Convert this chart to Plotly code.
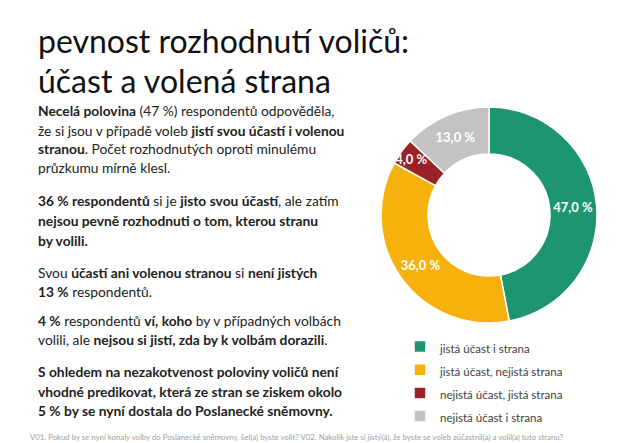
import plotly.graph_objects as go

# ---- data ----
categories = ["jistá účast i strana", "jistá účast, nejistá strana",
              "nejistá účast, jistá strana", "nejistá účast i strana"]
values = [47.0, 36.0, 4.0, 13.0]
colors = ["#1d9570", "#f6b10c", "#982226", "#c3c3c3"]

title_lines = ["pevnost rozhodnutí voličů:", "účast a volená strana"]

body_lines = [
    ("<b>Necelá polovina</b> (47 %) respondentů odpověděla,", 103),
    ("že si jsou v případě voleb <b>jistí svou účastí i volenou</b>", 122),
    ("<b>stranou</b>. Počet rozhodnutých oproti minulému", 141),
    ("průzkumu mírně klesl.", 160),
    ("<b>36 % respondentů</b> si je <b>jisto svou účastí</b>, ale zatím", 193),
    ("<b>nejsou pevně rozhodnuti o tom, kterou stranu</b>", 213),
    ("<b>by volili.</b>", 232),
    ("Svou <b>účastí ani volenou stranou</b> si <b>není jistých</b>", 264),
    ("<b>13 %</b> respondentů.", 283),
    ("<b>4 %</b> respondentů <b>ví, koho</b> by v případných volbách", 312),
    ("volili, ale <b>nejsou si jistí, zda by k volbám dorazili</b>.", 331),
    ("<b>S ohledem na nezakotvenost poloviny voličů není</b>", 363),
    ("<b>vhodné predikovat, která ze stran se ziskem okolo</b>", 383),
    ("<b>5 % by se nyní dostala do Poslanecké sněmovny.</b>", 402),
]

footnote = ("V01. Pokud by se nyní konaly volby do Poslanecké sněmovny, šel(a) byste volit? "
            "V02. Nakolik jste si jistý(á), že byste se voleb zúčastnil(a) a volil(a) tuto stranu?")

W, H = 640, 443
FONT = "Lato"

fig = go.Figure()
fig.add_trace(go.Pie(
    labels=[f'<span style="font-size:11.5px">{c}</span>' for c in categories],
    values=values,
    sort=False,
    direction="clockwise",
    rotation=0,
    hole=0.565,
    marker=dict(colors=colors, line=dict(color="white", width=1.5)),
    texttemplate="%{value:.1f} %",
    textposition="inside",
    insidetextorientation="horizontal",
    textfont=dict(family=FONT, size=13, color="white", weight="bold"),
    hoverinfo="skip",
    domain=dict(x=[(481 - 108) / W, (481 + 108) / W],
                y=[(H - 315) / H, (H - 99) / H]),
))

annotations = []
for i, t in enumerate(title_lines):
    annotations.append(dict(text=t, x=28 / W, y=1 - (32 + 40 * i) / H,
                            xref="paper", yref="paper", xanchor="left", yanchor="middle",
                            showarrow=False,
                            font=dict(family=FONT, size=32, color="#111111")))
for t, yy in body_lines:
    annotations.append(dict(text=t, x=28 / W, y=1 - yy / H,
                            xref="paper", yref="paper", xanchor="left", yanchor="middle",
                            showarrow=False,
                            font=dict(family=FONT, size=13.8, color="#222222")))
annotations.append(dict(text=footnote, x=20 / W, y=1 - 429 / H,
                        xref="paper", yref="paper", xanchor="left", yanchor="middle",
                        showarrow=False,
                        font=dict(family=FONT, size=7.8, color="#a0a0a0")))

fig.update_layout(
    width=W, height=H,
    margin=dict(l=0, r=0, t=0, b=0),
    paper_bgcolor="white",
    plot_bgcolor="white",
    separators=", ",
    uniformtext=dict(minsize=13, mode="show"),
    showlegend=True,
    legend=dict(x=392 / W, y=1 - 322 / H, xanchor="left", yanchor="top",
                font=dict(family=FONT, size=15.5, color="#404040"),
                bgcolor="rgba(0,0,0,0)"),
    annotations=annotations,
)

fig.write_html("out.html")
